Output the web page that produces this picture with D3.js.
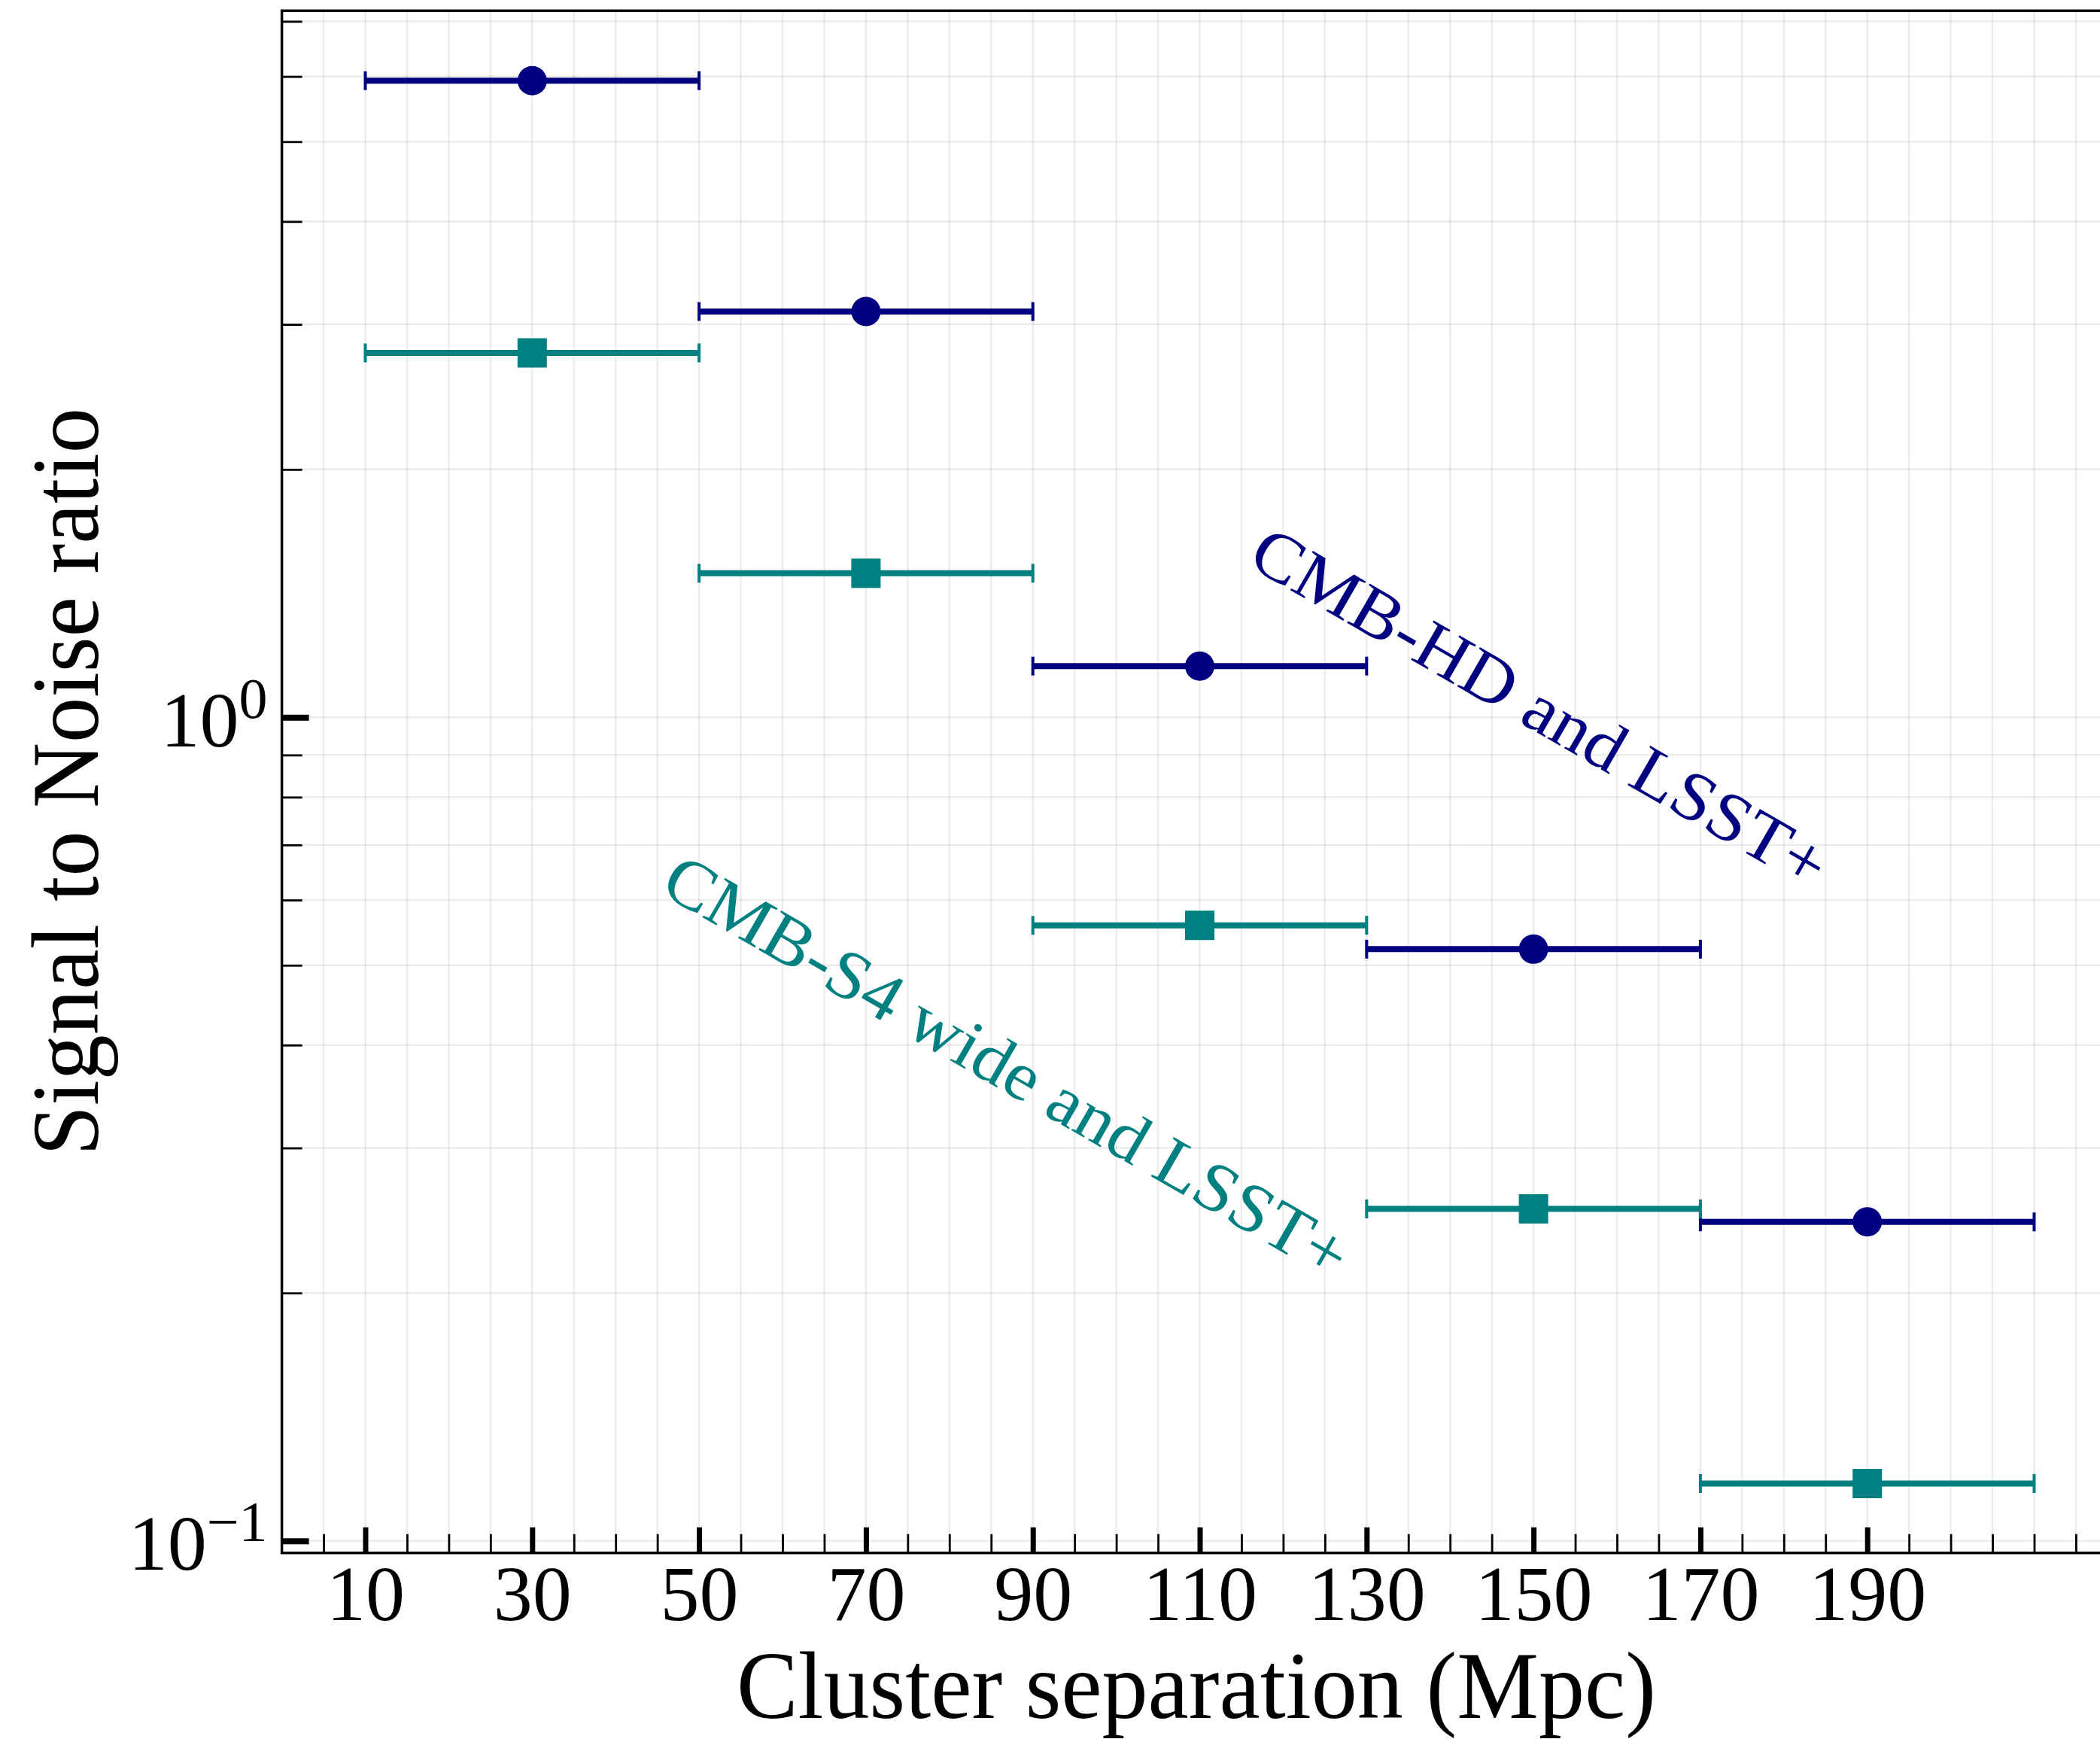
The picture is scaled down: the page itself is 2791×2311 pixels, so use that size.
<!DOCTYPE html>
<html>
<head>
<meta charset="utf-8">
<script src="https://cdn.jsdelivr.net/npm/d3@7"></script>
<style>
  html, body { margin: 0; padding: 0; background: #fff; }
  svg { display: block; }
  text { font-family: "Liberation Serif", "DejaVu Serif", serif; }
</style>
</head>
<body>
<script>
// Signal-to-noise of the pairwise measurement, per cluster-separation bin
const separations = [30, 70, 110, 150, 190];      // bin centres (Mpc)
const binHalfWidth = [20, 20, 20, 20, 20];        // half bin width (Mpc)
const snrHD = [5.93, 3.11, 1.154, 0.523, 0.244];  // CMB-HD and LSST+
const snrS4 = [2.77, 1.496, 0.559, 0.253, 0.1174]; // CMB-S4 wide and LSST+
const seriesNames = ["CMB-HD and LSST+", "CMB-S4 wide and LSST+"];

const xTickLabels = [10, 30, 50, 70, 90, 110, 130, 150, 170, 190];
const yMajorTicks = [0.1, 1];
const yTickExponents = ["\u22121", "0"];
const yMinorTicks = [0.2, 0.3, 0.4, 0.5, 0.6, 0.7, 0.8, 0.9, 2, 3, 4, 5, 6, 7];

(function () {
  const W = 2791, H = 2311;
  const plotL = 374.6, plotR = 2814.4, plotT = 14.3, plotB = 2063.7;
  const navy = "#000080", teal = "#008080";

  const svg = d3.select("body").append("svg")
    .attr("width", W).attr("height", H)
    .attr("viewBox", `0 0 ${W} ${H}`);
  svg.append("rect").attr("width", W).attr("height", H).attr("fill", "#fff");

  const x = d3.scaleLinear().domain([0, 220]).range([plotL, plotR]);
  const y = d3.scaleLog().domain([0.0967, 7.21]).range([plotB, plotT]);

  // grid on major and minor ticks
  const xGridVals = d3.range(5, 220, 5);
  const xMinor = xGridVals.filter(v => !xTickLabels.includes(v));
  const yGridVals = yMajorTicks.concat(yMinorTicks);
  const grid = svg.append("g").attr("stroke", "#000").attr("stroke-opacity", 0.075).attr("stroke-width", 2.5);
  grid.selectAll("line.gx").data(xGridVals).join("line").attr("class", "gx")
    .attr("x1", d => x(d)).attr("x2", d => x(d)).attr("y1", plotT).attr("y2", plotB);
  grid.selectAll("line.gy").data(yGridVals).join("line").attr("class", "gy")
    .attr("y1", d => y(d)).attr("y2", d => y(d)).attr("x1", plotL).attr("x2", plotR);

  // error bars with caps and markers
  function drawSeries(values, color, shape) {
    const g = svg.append("g");
    const rows = separations.map((s, i) => ({ s, v: values[i], e: binHalfWidth[i] }));
    g.selectAll("line.bar").data(rows).join("line").attr("class", "bar")
      .attr("x1", d => x(d.s - d.e)).attr("x2", d => x(d.s + d.e))
      .attr("y1", d => y(d.v)).attr("y2", d => y(d.v))
      .attr("stroke", color).attr("stroke-width", 8);
    const caps = rows.flatMap(d => [{ xv: d.s - d.e, v: d.v }, { xv: d.s + d.e, v: d.v }]);
    g.selectAll("line.cap").data(caps).join("line").attr("class", "cap")
      .attr("x1", d => x(d.xv)).attr("x2", d => x(d.xv))
      .attr("y1", d => y(d.v) - 12.5).attr("y2", d => y(d.v) + 12.5)
      .attr("stroke", color).attr("stroke-width", 4);
    if (shape === "circle") {
      g.selectAll("circle").data(rows).join("circle")
        .attr("cx", d => x(d.s)).attr("cy", d => y(d.v)).attr("r", 19.5)
        .attr("fill", color);
    } else {
      g.selectAll("rect").data(rows).join("rect")
        .attr("x", d => x(d.s) - 19.5).attr("y", d => y(d.v) - 19.5)
        .attr("width", 39).attr("height", 39).attr("fill", color);
    }
  }
  drawSeries(snrHD, navy, "circle");
  drawSeries(snrS4, teal, "square");

  // bottom axis: inward ticks
  const xMajorAxis = d3.axisBottom(x).tickValues(xTickLabels).tickSizeInner(-34).tickSizeOuter(0).tickPadding(0);
  const gx = svg.append("g").attr("transform", `translate(0,${plotB})`).call(xMajorAxis);
  gx.select(".domain").remove();
  gx.selectAll(".tick line").attr("stroke", "#000").attr("stroke-width", 7);
  gx.selectAll(".tick text")
    .attr("y", 2153 - plotB).attr("dy", 0)
    .attr("font-size", 104).attr("fill", "#000")
    .style("font-family", '"Liberation Serif", serif');
  const xMinorAxis = d3.axisBottom(x).tickValues(xMinor).tickSizeInner(-25).tickSizeOuter(0).tickFormat("");
  const gxm = svg.append("g").attr("transform", `translate(0,${plotB})`).call(xMinorAxis);
  gxm.select(".domain").remove();
  gxm.selectAll(".tick line").attr("stroke", "#000").attr("stroke-width", 2.8);

  // left axis: log ticks, labels as powers of ten
  const yMajorAxis = d3.axisLeft(y).tickValues(yMajorTicks).tickSizeInner(-36).tickSizeOuter(0).tickPadding(19)
    .tickFormat(() => "");
  const gy = svg.append("g").attr("transform", `translate(${plotL},0)`).call(yMajorAxis);
  gy.select(".domain").remove();
  gy.selectAll(".tick line").attr("stroke", "#000").attr("stroke-width", 8);
  gy.selectAll(".tick text").each(function (d, i) {
    const t = d3.select(this)
      .attr("x", -19).attr("dy", 38).attr("font-size", 104).attr("fill", "#000")
      .attr("text-anchor", "end")
      .style("font-family", '"Liberation Serif", serif');
    t.append("tspan").text("10");
    t.append("tspan").attr("font-size", 76).attr("dy", -38).text(yTickExponents[i]);
  });
  const yMinorAxis = d3.axisLeft(y).tickValues(yMinorTicks).tickSizeInner(-27).tickSizeOuter(0).tickFormat("");
  const gym = svg.append("g").attr("transform", `translate(${plotL},0)`).call(yMinorAxis);
  gym.select(".domain").remove();
  gym.selectAll(".tick line").attr("stroke", "#000").attr("stroke-width", 2.8);

  // spines
  svg.append("rect")
    .attr("x", plotL).attr("y", plotT).attr("width", plotR - plotL).attr("height", plotB - plotT)
    .attr("fill", "none").attr("stroke", "#000").attr("stroke-width", 3.5);

  // axis labels
  svg.append("text")
    .attr("x", 1590).attr("y", 2283).attr("text-anchor", "middle")
    .attr("font-size", 128).attr("textLength", 1222).attr("lengthAdjust", "spacingAndGlyphs")
    .text("Cluster separation (Mpc)");
  svg.append("text")
    .attr("transform", "translate(130,1039) rotate(-90)").attr("text-anchor", "middle")
    .attr("font-size", 128).attr("textLength", 994).attr("lengthAdjust", "spacingAndGlyphs")
    .text("Signal to Noise ratio");

  // series labels running along the trend
  const labelSpecs = [
    { name: seriesNames[0], xv: 115.5, yv: 1.534, len: 868, color: navy },
    { name: seriesNames[1], xv: 45.1, yv: 0.614, len: 1035, color: teal }
  ];
  labelSpecs.forEach(l => {
    svg.append("text")
      .attr("transform", `translate(${x(l.xv)},${y(l.yv)}) rotate(30)`)
      .attr("font-size", 92).attr("fill", l.color)
      .attr("textLength", l.len).attr("lengthAdjust", "spacingAndGlyphs")
      .text(l.name);
  });
})();
</script>
</body>
</html>
